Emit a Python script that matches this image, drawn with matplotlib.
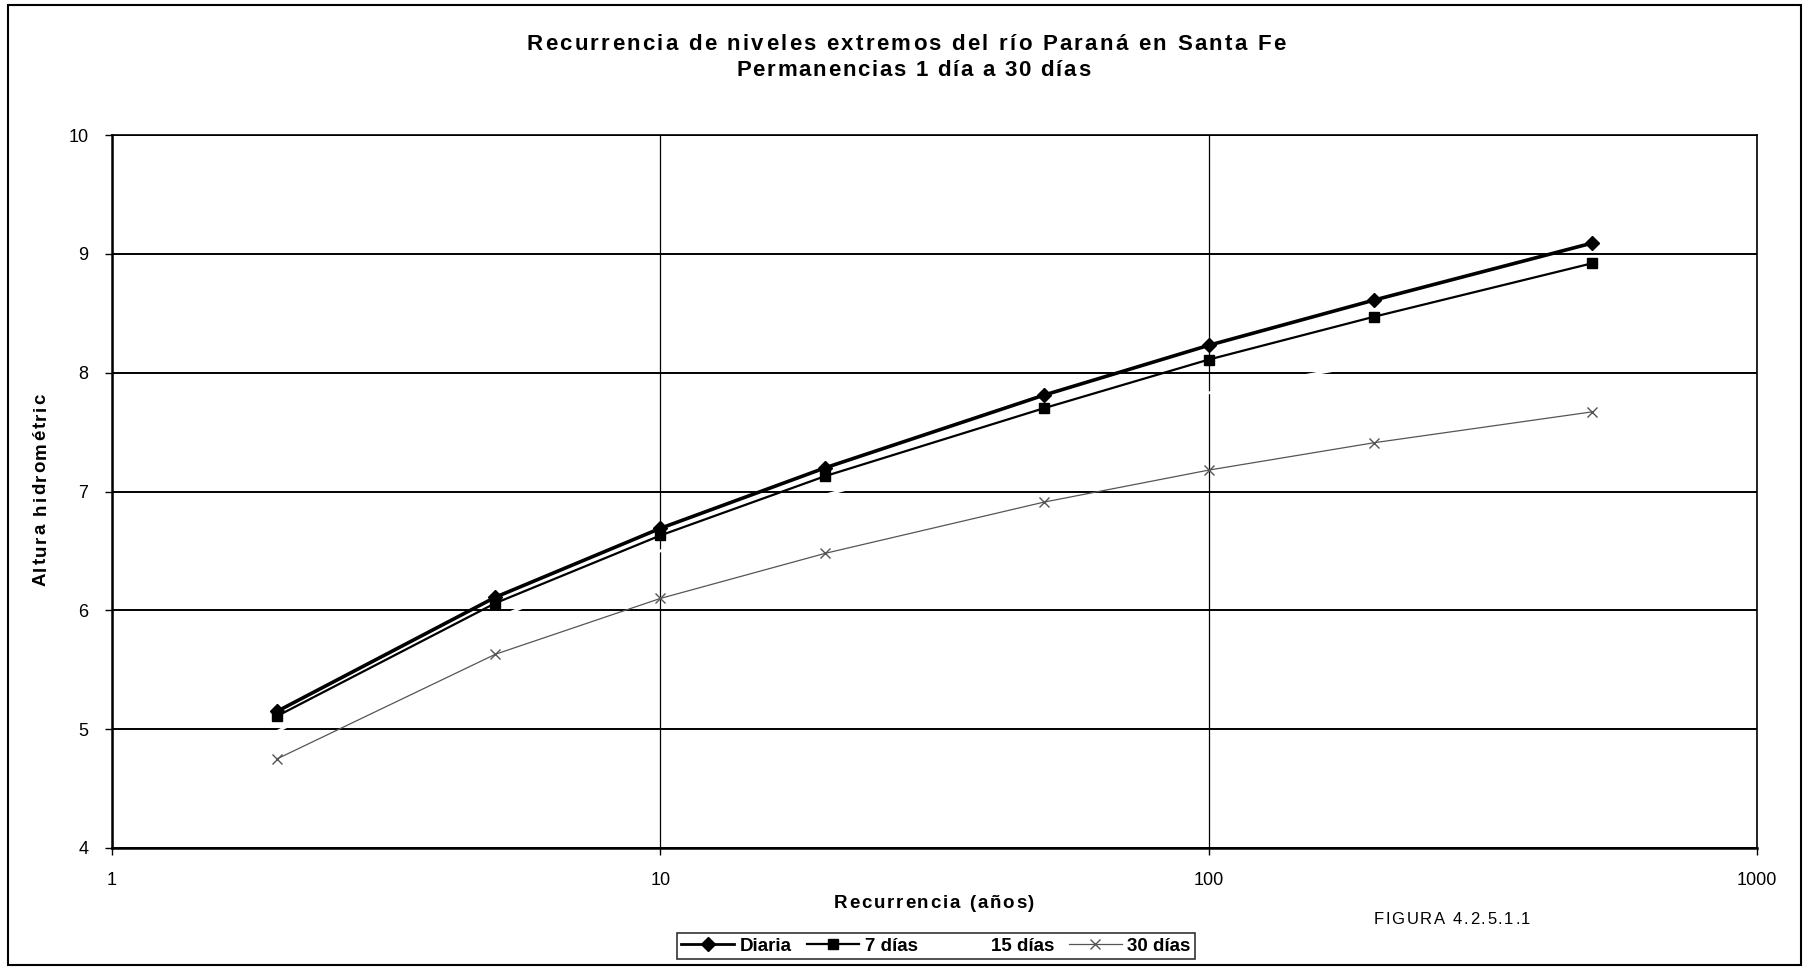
import matplotlib
matplotlib.use("Agg")
import matplotlib.pyplot as plt
from matplotlib.transforms import IdentityTransform
from matplotlib.patches import Rectangle
from matplotlib.lines import Line2D

# ---- data ----
recurrencia = [2, 5, 10, 20, 50, 100, 200, 500]
diaria = [5.15, 6.11, 6.69, 7.20, 7.81, 8.23, 8.61, 9.09]
dias7 = [5.11, 6.06, 6.63, 7.13, 7.70, 8.11, 8.47, 8.92]
dias15 = [4.98, 5.93, 6.50, 6.97, 7.48, 7.83, 8.08, 8.40]
dias30 = [4.75, 5.63, 6.10, 6.48, 6.91, 7.18, 7.41, 7.67]
series_names = ["Diaria", "7 días", "15 días", "30 días"]
yticks = [4, 5, 6, 7, 8, 9, 10]
xticks = [1, 10, 100, 1000]
xtick_labels = ["1", "10", "100", "1000"]
title1 = "Recurrencia de niveles extremos del río Paraná en Santa Fe"
title2 = "Permanencias 1 día a 30 días"
xlabel = "Recurrencia (años)"
ylabel = "Altura hidrométric"
figlabel = "FIGURA 4.2.5.1.1"

W, H = 1803, 967
fig = plt.figure(figsize=(W / 100, H / 100), dpi=100)
FONT = "Liberation Sans"

left, right, top, bottom = 112, 1757, 135, 848
ax = fig.add_axes([left / W, 1 - bottom / H, (right - left) / W, (bottom - top) / H])
ax.set_xscale("log")
ax.set_xlim(1, 1000)
ax.set_ylim(4, 10)

for yv in yticks:
    ax.axhline(yv, color="black", lw=1.4, zorder=1)
for xv in xticks:
    ax.axvline(xv, color="black", lw=0.9, zorder=1)

ax.plot(recurrencia, dias15, color="white", lw=2.0, zorder=2, label=series_names[2])
ax.plot(recurrencia, dias30, color="#555555", lw=0.9, marker="x", ms=7, mew=1.0,
        zorder=3, label=series_names[3])
ax.plot(recurrencia, dias7, color="black", lw=1.6, marker="s", ms=7, zorder=4,
        label=series_names[1])
ax.plot(recurrencia, diaria, color="black", lw=2.6, marker="D", ms=7, zorder=5,
        label=series_names[0])

ax.set_yticks(yticks)
ax.set_yticklabels([str(v) for v in yticks], fontfamily=FONT, fontsize=13)
ax.set_xticks(xticks)
ax.set_xticklabels(xtick_labels, fontfamily=FONT, fontsize=13)
ax.minorticks_off()
ax.tick_params(axis="y", direction="out", length=5, width=1, pad=12)
ax.tick_params(axis="x", direction="out", length=5, width=1, pad=12)
for s in ["left", "bottom"]:
    ax.spines[s].set_linewidth(1.8)
for s in ["top", "right"]:
    ax.spines[s].set_linewidth(1.2)

renderer = fig.canvas.get_renderer()


def text_width(s, **kw):
    t = fig.text(0, 0, s, transform=IdentityTransform(), **kw)
    w = t.get_window_extent(renderer).width
    t.remove()
    return w


def spaced_text(cx, cy_top, s, target, rotation=0, **kw):
    """Draw text with letter spacing so that it spans `target` pixels.
    cx, cy_top in pixels measured from top-left of the figure."""
    wxx = text_width("xx", **kw)
    ws = text_width("x x", **kw) - wxx
    widths = [ws if ch == " " else text_width(ch, **kw) for ch in s]
    extra = (target - sum(widths)) / max(len(s) - 1, 1)
    pos = -target / 2
    for ch, w in zip(s, widths):
        if ch != " ":
            if rotation == 0:
                fig.text(cx + pos, H - cy_top, ch, transform=IdentityTransform(),
                         ha="left", va="center", **kw)
            else:
                fig.text(cx, H - cy_top + pos, ch, transform=IdentityTransform(),
                         ha="center", va="bottom", rotation=90, **kw)
        pos += w + extra


spaced_text(906, 44, title1, 759, fontfamily=FONT, fontsize=16, fontweight="bold")
spaced_text(913, 70, title2, 354, fontfamily=FONT, fontsize=16, fontweight="bold")
spaced_text(934, 903, xlabel, 201, fontfamily=FONT, fontsize=13.5, fontweight="bold")
spaced_text(41, 490, ylabel, 193, rotation=90, fontfamily=FONT, fontsize=13.5,
            fontweight="bold")
spaced_text(1452, 920, figlabel, 157, fontfamily=FONT, fontsize=12)

handles = [
    Line2D([], [], color="black", lw=2.0, marker="D", ms=7),
    Line2D([], [], color="black", lw=1.6, marker="s", ms=7),
    Line2D([], [], color="white", lw=1.6),
    Line2D([], [], color="#555555", lw=0.9, marker="x", ms=7),
]
leg = fig.legend(handles, series_names, loc="center", ncol=4,
                 bbox_to_anchor=(936 / W, 1 - 946 / H),
                 prop={"family": FONT, "size": 13.5, "weight": "bold"},
                 frameon=True, fancybox=False, edgecolor="black",
                 handlelength=2.8, handletextpad=0.3, columnspacing=0.8,
                 borderpad=0.25, borderaxespad=0)
leg.get_frame().set_linewidth(1.2)

fig.patches.append(Rectangle((8 / W, 2 / H), (1801 - 8) / W, (962 - 2) / H,
                             transform=fig.transFigure, fill=False,
                             edgecolor="black", lw=1.5))

fig.savefig("out.png", dpi=100)
